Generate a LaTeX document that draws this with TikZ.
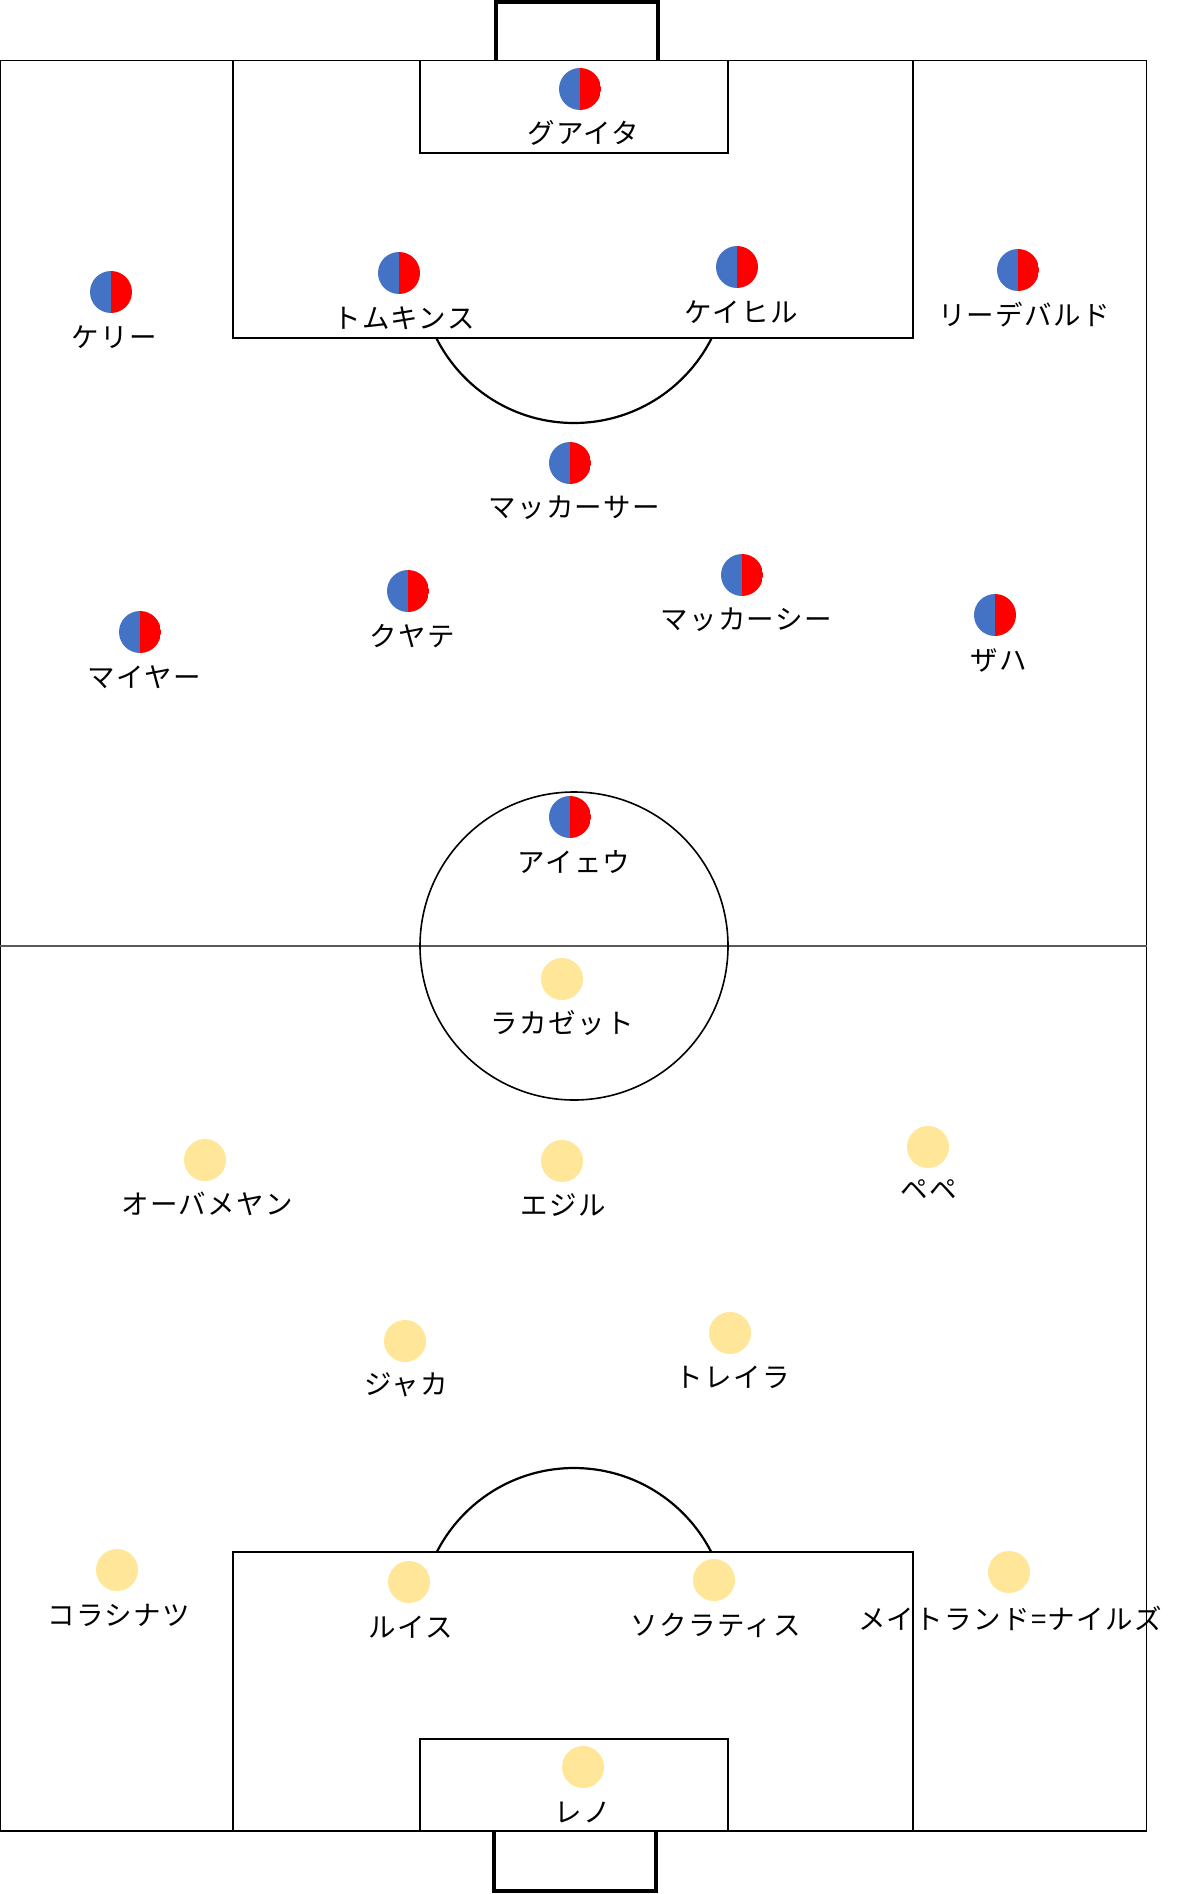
\documentclass[tikz,border=0pt]{standalone}
\usepackage{fontspec}
\setmainfont{Noto Sans CJK JP}
\definecolor{tblue}{HTML}{4472C4}
\definecolor{tred}{HTML}{FF0000}
\definecolor{tgold}{HTML}{FFE699}
\begin{document}
\begin{tikzpicture}[x=1pt,y=-1pt]
\tikzset{
  lineW/.style={line width=1.6pt, draw=black},
  goalW/.style={line width=3.6pt, draw=black, line join=miter},
  arcW/.style={line width=2.2pt, draw=black},
  rb/.style={circle, minimum size=42pt, inner sep=0pt,
    path picture={
      \fill[tblue] (path picture bounding box.south west) rectangle (path picture bounding box.north);
      \fill[tred] (path picture bounding box.north) rectangle (path picture bounding box.south east);
    }},
  gd/.style={circle, fill=tgold, minimum size=42pt, inner sep=0pt},
  lbl/.style={font=\fontsize{27.5}{30}\selectfont\addfontfeatures{LetterSpace=5}, inner sep=0pt, anchor=center}
}
\useasboundingbox (0,0) rectangle (1180,1894);
\fill[white] (0,0) rectangle (1180,1894);
% pitch
\draw[lineW] (0,60.5) rectangle (1146.5,1831);
\draw[line width=1.2pt, draw=black!65] (0,946) -- (1146.5,946);
\draw[lineW] (574,946) circle (154pt);
% top
\draw[lineW] (233,60.5) rectangle (913,338);
\draw[lineW] (420,60.5) rectangle (728,153);
\draw[goalW] (496,60) -- (496,2) -- (658,2) -- (658,60);
\begin{scope}
\clip (0,339) rectangle (1147,946);
\draw[arcW] (574,269) circle (154pt);
\end{scope}
% bottom
\draw[lineW] (233,1552) rectangle (913,1831);
\draw[lineW] (420,1739) rectangle (728,1831);
\draw[goalW] (494,1832) -- (494,1891) -- (656,1891) -- (656,1832);
\begin{scope}
\clip (0,946) rectangle (1147,1551);
\draw[arcW] (574,1622) circle (154pt);
\end{scope}
% red/blue team
\node[rb] (p1) at (580,89) {};   \node[lbl] (n1) at (583,133) {グアイタ};
\node[rb] (p2) at (111,292) {};  \node[lbl] (n2) at (114,337) {ケリー};
\node[rb] (p3) at (399,273) {};  \node[lbl] (n3) at (404,318) {トムキンス};
\node[rb] (p4) at (737,267) {};  \node[lbl] (n4) at (741,312) {ケイヒル};
\node[rb] (p5) at (1018,270) {}; \node[lbl] (n5) at (1024,315) {リーデバルド};
\node[rb] (p6) at (570,463) {};  \node[lbl] (n6) at (574,508) {マッカーサー};
\node[rb] (p7) at (408,591) {};  \node[lbl] (n7) at (412,636) {クヤテ};
\node[rb] (p8) at (742,575) {};  \node[lbl] (n8) at (746,620) {マッカーシー};
\node[rb] (p9) at (140,632) {};  \node[lbl] (n9) at (144,677) {マイヤー};
\node[rb] (p10) at (995,615) {}; \node[lbl] (n10) at (999,660) {ザハ};
\node[rb] (p11) at (570,817) {}; \node[lbl] (n11) at (574,862) {アイェウ};
% yellow team
\node[gd] (q1) at (562,979) {};   \node[lbl] (m1) at (562,1023) {ラカゼット};
\node[gd] (q2) at (205,1160) {};  \node[lbl] (m2) at (207,1204) {オーバメヤン};
\node[gd] (q3) at (562,1161) {};  \node[lbl] (m3) at (563,1205) {エジル};
\node[gd] (q4) at (928,1147) {};  \node[lbl] (m4) at (929,1190) {ペペ};
\node[gd] (q5) at (405,1341) {};  \node[lbl] (m5) at (406,1385) {ジャカ};
\node[gd] (q6) at (730,1333) {};  \node[lbl] (m6) at (733,1377) {トレイラ};
\node[gd] (q7) at (117,1570) {};  \node[lbl] (m7) at (119,1615) {コラシナツ};
\node[gd] (q8) at (409,1582) {};  \node[lbl] (m8) at (411,1627) {ルイス};
\node[gd] (q9) at (714,1580) {};  \node[lbl] (m9) at (716,1625) {ソクラティス};
\node[gd] (q10) at (1009,1572) {}; \node[lbl] (m10) at (1010,1618) {メイトランド=ナイルズ};
\node[gd] (q11) at (583,1767) {}; \node[lbl] (m11) at (583,1812) {レノ};
\end{tikzpicture}
\end{document}
